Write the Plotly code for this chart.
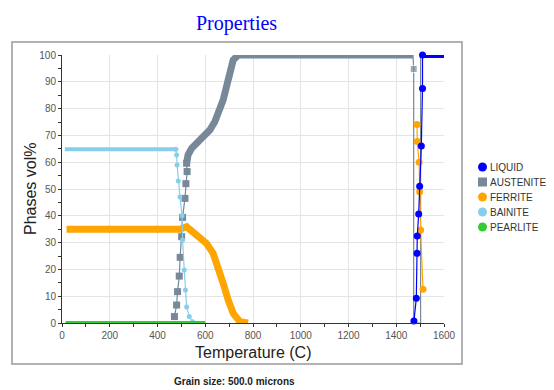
import plotly.graph_objects as go

# ---- phase fractions (vol%) vs temperature (C) ----
# densely sampled stretches are drawn as thick bands, sparse stretches as markers
aus_band_t = [522, 528, 543, 564, 591, 619, 640, 654, 675, 689, 703, 717, 738, 1470]
aus_band_v = [59.6, 62.7, 65.2, 67.0, 68.9, 72.0, 75.1, 78.2, 83.2, 88.2, 93.8, 98.1, 100, 100]
aus_pts_t = [471, 480, 484, 491, 495, 501, 505, 515, 519, 524]
aus_pts_v = [2.4, 6.7, 11.7, 17.5, 24.5, 32.2, 39.4, 46.5, 52.0, 56.5]
aus_hi_t = [1470, 1473, 1473, 1502, 1502]
aus_hi_v = [100, 94.8, 0, 0, 100]

fer_band_t = [19, 494, 522, 549, 577, 605, 633, 654, 675, 696, 717, 745, 779]
fer_band_v = [35, 35, 35.9, 34.0, 32.2, 29.7, 26.0, 21.0, 14.8, 8.6, 3.6, 0.5, 0]
fer_hi_t = [1487, 1488, 1496, 1498, 1502, 1512]
fer_hi_v = [74.1, 67.7, 60.0, 49.0, 34.7, 12.6]

bai_band_t = [12, 477]
bai_band_v = [64.8, 64.8]
bai_pts_t = [477, 480, 482, 487, 494, 503, 505, 512, 517, 522, 533, 547]
bai_pts_v = [64.8, 62.7, 59.0, 53.0, 47.0, 40.0, 31.0, 19.8, 12.3, 6.0, 2.4, 0.5]

prl_t = [15, 600]
prl_v = [0, 0]

liq_pts_t = [1474, 1484, 1487, 1488, 1494, 1498, 1505, 1510, 1510]
liq_pts_v = [0.7, 9.2, 26.0, 32.5, 40.7, 51.0, 66.0, 87.5, 100]
liq_band_t = [1506, 1600]
liq_band_v = [100, 100]

phases = ["LIQUID", "AUSTENITE", "FERRITE", "BAINITE", "PEARLITE"]
colors = {"LIQUID": "#0000ff", "AUSTENITE": "#778899", "FERRITE": "#ffa500",
          "BAINITE": "#87ceeb", "PEARLITE": "#33cc33"}
symbols = {"AUSTENITE": "square"}

fig = go.Figure()


def band(t, v, color, width):
    fig.add_trace(go.Scatter(x=t, y=v, mode="lines", showlegend=False, cliponaxis=False,
                             line=dict(color=color, width=width), hoverinfo="skip"))


def points(t, v, color, size, symbol="circle", sizes=None):
    fig.add_trace(go.Scatter(x=t, y=v, mode="lines+markers", showlegend=False, cliponaxis=False,
                             line=dict(color=color, width=1.2),
                             marker=dict(color=color, size=sizes if sizes else size, symbol=symbol)))


# austenite
band(aus_band_t, aus_band_v, colors["AUSTENITE"], 7)
points(aus_pts_t + [aus_band_t[0]], aus_pts_v + [aus_band_v[0]], colors["AUSTENITE"], 7, "square")
points(aus_hi_t, aus_hi_v, colors["AUSTENITE"], 7, "square", sizes=[0, 7, 0, 0, 0])

# ferrite
band(fer_band_t, fer_band_v, colors["FERRITE"], 7)
points(fer_hi_t, fer_hi_v, colors["FERRITE"], 7)

# bainite
band(bai_band_t, bai_band_v, colors["BAINITE"], 4)
points(bai_pts_t, bai_pts_v, colors["BAINITE"], 5)

# pearlite
band(prl_t, prl_v, colors["PEARLITE"], 4)

# liquid
points(liq_pts_t, liq_pts_v, colors["LIQUID"], 7)
band(liq_band_t, liq_band_v, colors["LIQUID"], 6)

axis_common = dict(showline=True, linecolor="#333333", linewidth=1, mirror=False,
                   ticks="outside", ticklen=3, tickcolor="#333333",
                   showgrid=True, gridcolor="#e4e4e4", gridwidth=1, zeroline=False,
                   tickfont=dict(family="Arial", size=10, color="#555555"))

fig.update_xaxes(range=[0, 1600], tickvals=[0, 200, 400, 600, 800, 1000, 1200, 1400, 1600],
                 minor=dict(dtick=100, ticks="outside", ticklen=3, tickcolor="#333333", showgrid=False),
                 **axis_common)
fig.update_yaxes(range=[0, 100], dtick=10,
                 minor=dict(dtick=5, ticks="outside", ticklen=3, tickcolor="#333333", showgrid=False),
                 **axis_common)

# plot area in pixels: x 62..444, y 55..323
PL, PW, PT, PH = 62, 382, 55, 268


def px(x):
    return (x - PL) / PW


def py(y):
    return 1 - (y - PT) / PH


# hand-laid legend: marker swatch + label per phase
shapes = [dict(type="rect", xref="paper", yref="paper",
               x0=px(12), x1=px(462), y0=py(364), y1=py(42),
               line=dict(color="#999999", width=1.5), layer="below")]
annotations = []
for i, name in enumerate(phases):
    cy = 167 + 15 * i
    kind = "rect" if symbols.get(name) == "square" else "circle"
    shapes.append(dict(type=kind, xref="paper", yref="paper",
                       x0=px(478), x1=px(487), y0=py(cy + 4.5), y1=py(cy - 4.5),
                       fillcolor=colors[name], line=dict(width=0)))
    annotations.append(dict(text=name, xref="paper", yref="paper", x=px(488), y=py(cy + 0.5),
                            xanchor="left", yanchor="middle", showarrow=False,
                            font=dict(family="Arial", size=10, color="#333333")))

annotations += [
    dict(text="Properties", xref="paper", yref="paper", x=px(236), y=py(23),
         xanchor="center", yanchor="middle", showarrow=False,
         font=dict(family="Liberation Serif", size=20, color="#0000ff")),
    dict(text="Phases vol%", xref="paper", yref="paper", x=px(30), y=py(189),
         xanchor="center", yanchor="middle", textangle=-90, showarrow=False,
         font=dict(family="Arial", size=16, color="#222222")),
    dict(text="Temperature (C)", xref="paper", yref="paper", x=px(253), y=py(352),
         xanchor="center", yanchor="middle", showarrow=False,
         font=dict(family="Arial", size=16, color="#222222")),
    dict(text="<b>Grain size: 500.0 microns</b>", xref="paper", yref="paper",
         x=px(234), y=py(381), xanchor="center", yanchor="middle", showarrow=False,
         font=dict(family="Arial", size=10, color="#222222")),
]

fig.update_layout(
    width=554, height=390,
    margin=dict(l=PL, r=554 - PL - PW, t=PT, b=390 - PT - PH),
    paper_bgcolor="white", plot_bgcolor="white",
    showlegend=False,
    shapes=shapes,
    annotations=annotations,
)

fig.write_html("out.html")
